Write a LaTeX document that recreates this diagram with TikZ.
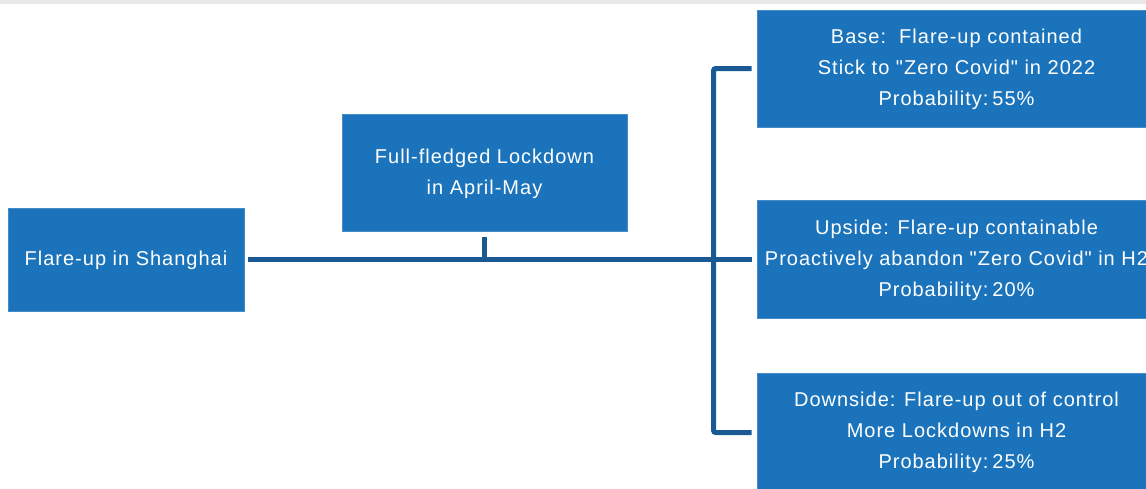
\documentclass[tikz,border=0pt]{standalone}
\usepackage{fontspec}
\setmainfont{Liberation Sans}[LetterSpace=5, Ligatures=TeXOff]
\definecolor{boxblue}{RGB}{27,116,187}
\definecolor{boxedge}{RGB}{70,140,200}
\definecolor{linkblue}{RGB}{26,90,148}
\definecolor{topgray}{RGB}{232,232,232}
\newcommand{\bxtext}[1]{\raisebox{-2pt}{\begin{tabular}{@{}c@{}}#1\end{tabular}}}
\tikzset{
  box/.style={rectangle, fill=boxblue, draw=boxedge, line width=0.8pt, text=white, inner sep=0pt,
    font=\fontsize{20}{31}\selectfont},
  conn/.style={draw=linkblue, line width=5pt},
}
\begin{document}
\begin{tikzpicture}[x=1pt,y=-1pt]
\useasboundingbox (0,0) rectangle (1146,488);
\clip (0,0) rectangle (1146,488);
\fill[topgray] (0,0) rectangle (1146,4);
\node[box, minimum width=236pt, minimum height=103pt] (L) at (126,259.5) {\bxtext{Flare-up in Shanghai}};
\node[box, minimum width=285pt, minimum height=117pt] (M) at (484.5,172.5) {\bxtext{Full-fledged Lockdown\\in April-May}};
\node[box, minimum width=399pt, minimum height=117pt] (R1) at (956.5,68.5) {\bxtext{Base:\ \ Flare-up contained\\Stick to "Zero Covid" in 2022\\Probability:\hspace{4pt}55\%}};
\node[box, minimum width=399pt, minimum height=118pt] (R2) at (956.5,259) {\bxtext{Upside: Flare-up containable\\Proactively abandon "Zero Covid" in H2\\Probability:\hspace{4pt}20\%}};
\node[box, minimum width=399pt, minimum height=117pt] (R3) at (956.5,431.5) {\bxtext{Downside: Flare-up out of control\\More Lockdowns in H2\\Probability:\hspace{4pt}25\%}};
\draw[conn] ([xshift=4pt]L.east) -- ([xshift=-5pt]L.east -| R2.west);
\draw[conn] ([yshift=-6pt]M.south) -- (M.south |- L.east);
\draw[conn, rounded corners=2pt] ([xshift=-5pt]R1.west) -- ++(-38,0) |- ([xshift=-5pt,yshift=-1pt]R3.west);
\end{tikzpicture}
\end{document}
